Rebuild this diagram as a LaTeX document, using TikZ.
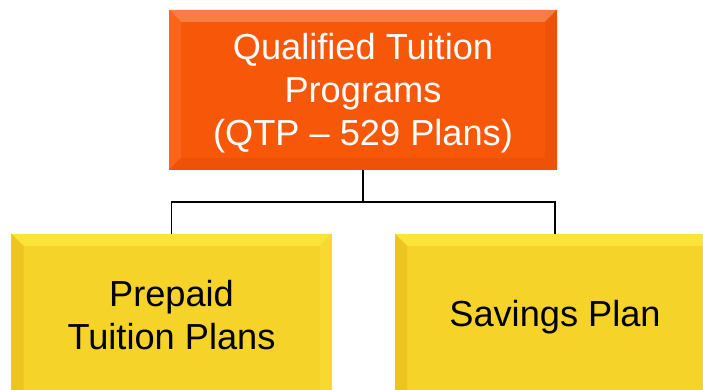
\documentclass[tikz,border=0pt]{standalone}
\usepackage{fontspec}
\setmainfont{Liberation Sans}
\usetikzlibrary{calc}
\definecolor{qtporange}{HTML}{F75709}
\definecolor{qtplight}{HTML}{F87D42}
\definecolor{qtpside}{HTML}{F8661C}
\definecolor{qtpdark}{HTML}{EE5207}
\definecolor{planyellow}{HTML}{F5D328}
\definecolor{planlight}{HTML}{FAE43A}
\definecolor{planside}{HTML}{EDC520}
\definecolor{planright}{HTML}{F7D932}
\def\bw{0.24}
\def\bevel(#1)(#2:#3:#4:#5){%
  \fill[#2] (#1.north west) -- (#1.north east) -- ($(#1.north east)+(-\bw,-\bw)$) -- ($(#1.north west)+(\bw,-\bw)$) -- cycle;
  \fill[#3] (#1.north west) -- ($(#1.north west)+(\bw,-\bw)$) -- ($(#1.south west)+(\bw,\bw)$) -- (#1.south west) -- cycle;
  \fill[#4] (#1.north east) -- ($(#1.north east)+(-\bw,-\bw)$) -- ($(#1.south east)+(-\bw,\bw)$) -- (#1.south east) -- cycle;
  \fill[#5] (#1.south west) -- ($(#1.south west)+(\bw,\bw)$) -- ($(#1.south east)+(-\bw,\bw)$) -- (#1.south east) -- cycle;}
\tikzset{
  box/.style={inner sep=0pt, outer sep=0pt, align=center},
  topbox/.style={box, fill=qtporange, minimum width=7.76cm, minimum height=3.2cm},
  planbox/.style={box, fill=planyellow, minimum width=6.4cm, minimum height=4cm},
  label/.style={align=center, font=\fontsize{20.6}{24.4}\selectfont},
  link/.style={line width=1.1pt, black}
}

\begin{document}
\begin{tikzpicture}
		%%%%% START %%%%%
		
		\clip (0, 0) rectangle (14.06, 7.8);
		
		\node[topbox] (qtp) at (7.26, 6.0) {};
		\bevel(qtp)(qtplight:qtpside:qtpdark:qtpdark)
		\node[label, white] (qtptext) at (7.26, 5.94) {Qualified Tuition\\Programs\\(QTP – 529 Plans)};
		
		\node[planbox] (prepaid) at (3.43, 1.12) {};
		\bevel(prepaid)(planlight:planside:planright:planside)
		\node[label] (prepaidtext) at (3.43, 1.5) {Prepaid\\Tuition Plans};
		
		\node[planbox] (savings) at (11.1, 1.12) {};
		\bevel(savings)(planlight:planside:planright:planside)
		\node[label] (savingstext) at (11.1, 1.46) {Savings Plan};
		
		\coordinate (split) at ($(qtp.south)+(0,-0.64)$);
		\draw[link] (qtp.south) -- (split);
		\draw[link] (split) -| (prepaid.north);
		\draw[link] (split) -| (savings.north);
		
		%%%%% END %%%%%
	\end{tikzpicture}
\end{document}
